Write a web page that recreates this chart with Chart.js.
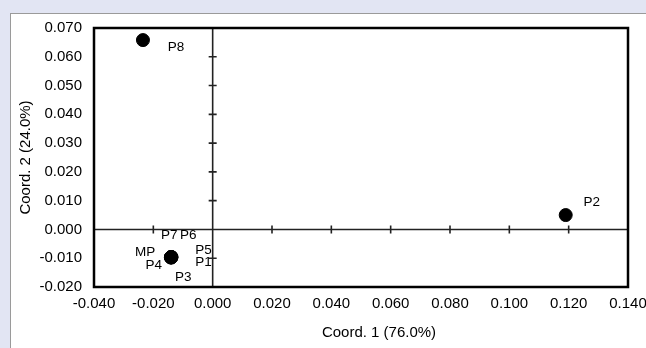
<!DOCTYPE html>
<html>
<head>
<meta charset="utf-8">
<script src="https://cdn.jsdelivr.net/npm/chart.js@4"></script>
<style>
  html, body { margin: 0; padding: 0; width: 646px; height: 348px; overflow: hidden; background: #e2e5f3; }
  #panel { position: absolute; left: 10px; top: 13px; width: 700px; height: 400px; background: #fff;
           border-top: 1px solid #9a9a9a; border-left: 1px solid #9a9a9a; }
  #wrap { position: absolute; left: 0; top: 0; width: 646px; height: 348px; }
</style>
</head>
<body>
<div id="panel"></div>
<div id="wrap"><canvas id="pcoa"></canvas></div>
<script>
// PCoA scores
const pointNames = ['MP', 'P1', 'P2', 'P3', 'P4', 'P5', 'P6', 'P7', 'P8'];
const coord1 = [-0.0140, -0.0139, 0.1190, -0.0140, -0.0141, -0.0139, -0.0140, -0.0140, -0.0235];
const coord2 = [-0.0097, -0.0096, 0.0050, -0.0098, -0.0097, -0.0096, -0.0096, -0.0096, 0.0658];

const xTicks = [-0.04, -0.02, 0, 0.02, 0.04, 0.06, 0.08, 0.10, 0.12, 0.14];
const yTicks = [-0.02, -0.01, 0, 0.01, 0.02, 0.03, 0.04, 0.05, 0.06, 0.07];
const xTitle = 'Coord. 1 (76.0%)';
const yTitle = 'Coord. 2 (24.0%)';

// where each data label sits relative to its dot (px)
const labelOffsets = [[-26, -5], [32, 5], [26, -13], [12, 20], [-17, 8], [32, -7], [17, -22], [-2, -22], [33, 7]];

const FONT = 'Liberation Sans, Arial, sans-serif';
const fmt = v => Math.abs(v) < 1e-9 ? '0.000' : v.toFixed(3);

const framePlugin = {
  id: 'frame',
  beforeDatasetsDraw(chart) {
    const { ctx, chartArea: a, scales: { x, y } } = chart;
    const x0 = x.getPixelForValue(0), y0 = y.getPixelForValue(0);
    ctx.save();
    ctx.strokeStyle = '#222';
    ctx.lineWidth = 1.6;
    ctx.beginPath();
    ctx.moveTo(a.left, y0); ctx.lineTo(a.right, y0);
    ctx.moveTo(x0, a.top); ctx.lineTo(x0, a.bottom);
    x.ticks.forEach(t => {
      if (Math.abs(t.value) < 1e-9 || t.value <= x.min || t.value >= x.max) return;
      const px = x.getPixelForValue(t.value);
      ctx.moveTo(px, y0 - 4); ctx.lineTo(px, y0 + 4);
    });
    y.ticks.forEach(t => {
      if (Math.abs(t.value) < 1e-9 || t.value <= y.min || t.value >= y.max) return;
      const py = y.getPixelForValue(t.value);
      ctx.moveTo(x0 - 4, py); ctx.lineTo(x0 + 4, py);
    });
    ctx.stroke();
    ctx.strokeStyle = '#000';
    ctx.lineWidth = 2.5;
    ctx.strokeRect(a.left, a.top, a.width, a.height);
    ctx.restore();
  },
  afterDatasetsDraw(chart) {
    const { ctx, chartArea: a } = chart;
    const meta = chart.getDatasetMeta(0);
    ctx.save();
    ctx.fillStyle = '#000';
    ctx.textAlign = 'center';
    ctx.textBaseline = 'middle';
    ctx.font = '13.5px ' + FONT;
    meta.data.forEach((pt, i) => {
      const [dx, dy] = labelOffsets[i];
      ctx.fillText(pointNames[i], pt.x + dx, pt.y + dy);
    });
    // x title sits a little right of the plot centre, as in the original
    ctx.font = '15px ' + FONT;
    ctx.fillText(xTitle, (a.left + a.right) / 2 + 18, 333);
    ctx.restore();
  }
};

new Chart(document.getElementById('pcoa'), {
  type: 'scatter',
  data: {
    datasets: [{
      data: coord1.map((v, i) => ({ x: v, y: coord2[i] })),
      backgroundColor: '#000',
      borderColor: '#000',
      pointRadius: 6.5,
      pointHoverRadius: 6.5
    }]
  },
  options: {
    responsive: true,
    maintainAspectRatio: false,
    animation: false,
    layout: { padding: { left: 0, top: 28, right: 18, bottom: 0 } },
    plugins: { legend: { display: false }, tooltip: { enabled: false } },
    scales: {
      x: {
        type: 'linear',
        min: -0.04, max: 0.14,
        afterBuildTicks: s => { s.ticks = xTicks.map(v => ({ value: v })); },
        afterFit: s => { s.height = 61; s.paddingLeft = 0; s.paddingRight = 0; },
        grid: { display: false, drawTicks: false },
        border: { display: false },
        ticks: { color: '#000', font: { family: FONT, size: 15 }, padding: 8, maxRotation: 0, callback: fmt },
        title: { display: false }
      },
      y: {
        type: 'linear',
        min: -0.02, max: 0.07,
        afterBuildTicks: s => { s.ticks = yTicks.map(v => ({ value: v })); },
        afterFit: s => { s.width = 94; s.paddingTop = 0; s.paddingBottom = 0; },
        grid: { display: false, drawTicks: false },
        border: { display: false },
        ticks: { color: '#000', font: { family: FONT, size: 15 }, padding: 12, callback: fmt },
        title: { display: true, text: yTitle, color: '#000', font: { family: FONT, size: 15 }, padding: { top: 17, bottom: 0 } }
      }
    }
  },
  plugins: [framePlugin]
});
</script>
</body>
</html>
